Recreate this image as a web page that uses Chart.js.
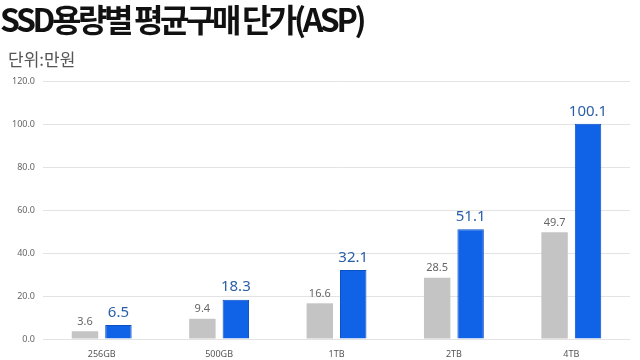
<!DOCTYPE html>
<html>
<head>
<meta charset="utf-8">
<script src="https://cdn.jsdelivr.net/npm/chart.js@4"></script>
<style>
  body { margin: 0; background: #fff; }
  #wrap { position: relative; width: 640px; height: 360px; overflow: hidden; }
  #title { position: absolute; left: 0; top: -5px; font-family: "Noto Sans CJK KR"; font-weight: 700; font-size: 32px; letter-spacing: -3.4px; color: #111; white-space: nowrap; }
  #unit { position: absolute; left: 8px; top: 46px; font-family: "Noto Sans CJK KR"; font-weight: 400; font-size: 17px; color: #555; }
  canvas { position: absolute; left: 0; top: 0; }
</style>
</head>
<body>
<div id="wrap">
  <canvas id="chart" width="640" height="360"></canvas>
  <div id="title">SSD용량별 평균구매 단가(ASP)</div>
  <div id="unit">단위:만원</div>
</div>
<script>
const categories = ['256GB', '500GB', '1TB', '2TB', '4TB'];
const grayValues = [3.6, 9.4, 16.6, 28.5, 49.7];
const blueValues = [6.5, 18.3, 32.1, 51.1, 100.1];
const yTicks = [0, 20, 40, 60, 80, 100, 120];

// value labels above the bars
const valueLabels = {
  id: 'valueLabels',
  afterDatasetsDraw(chart) {
    const ctx = chart.ctx;
    ctx.save();
    ctx.textAlign = 'center';
    ctx.textBaseline = 'bottom';
    chart.data.datasets.forEach((ds, i) => {
      const meta = chart.getDatasetMeta(i);
      meta.data.forEach((bar, j) => {
        if (i === 0) {
          ctx.font = '11px "Noto Sans", sans-serif';
          ctx.fillStyle = '#666';
          ctx.fillText(ds.data[j].toFixed(1), bar.x, bar.y - 4);
        } else {
          ctx.font = '15px "Noto Sans", sans-serif';
          ctx.fillStyle = '#2a5fa8';
          ctx.fillText(ds.data[j].toFixed(1), bar.x, bar.y - 5);
        }
      });
    });
    ctx.restore();
  }
};

new Chart(document.getElementById('chart'), {
  type: 'bar',
  data: {
    labels: categories,
    datasets: [
      { data: grayValues, backgroundColor: '#c4c4c4', borderWidth: 0 },
      { data: blueValues, backgroundColor: '#1062e6', borderColor: '#0a4fc4', borderWidth: 1 }
    ]
  },
  options: {
    responsive: false,
    animation: false,
    categoryPercentage: 0.57,
    barPercentage: 0.79,
    layout: { padding: { top: 81, right: 10, bottom: 0, left: 0 } },
    plugins: { legend: { display: false }, tooltip: { enabled: false } },
    scales: {
      x: {
        grid: { display: false },
        border: { display: false },
        ticks: { color: '#555', font: { size: 9, family: 'Noto Sans' }, padding: 2 },
        afterFit(scale) { scale.height = 21; }
      },
      y: {
        min: 0,
        max: 120,
        afterBuildTicks(scale) { scale.ticks = yTicks.map(v => ({ value: v })); },
        grid: { color: '#e3e3e3', drawTicks: false },
        border: { display: false },
        ticks: { color: '#666', font: { size: 9, family: 'Noto Sans' }, padding: 8,
          callback: v => Number(v).toFixed(1) },
        afterFit(scale) { scale.width = 43; }
      }
    }
  },
  plugins: [valueLabels]
});
</script>
</body>
</html>
